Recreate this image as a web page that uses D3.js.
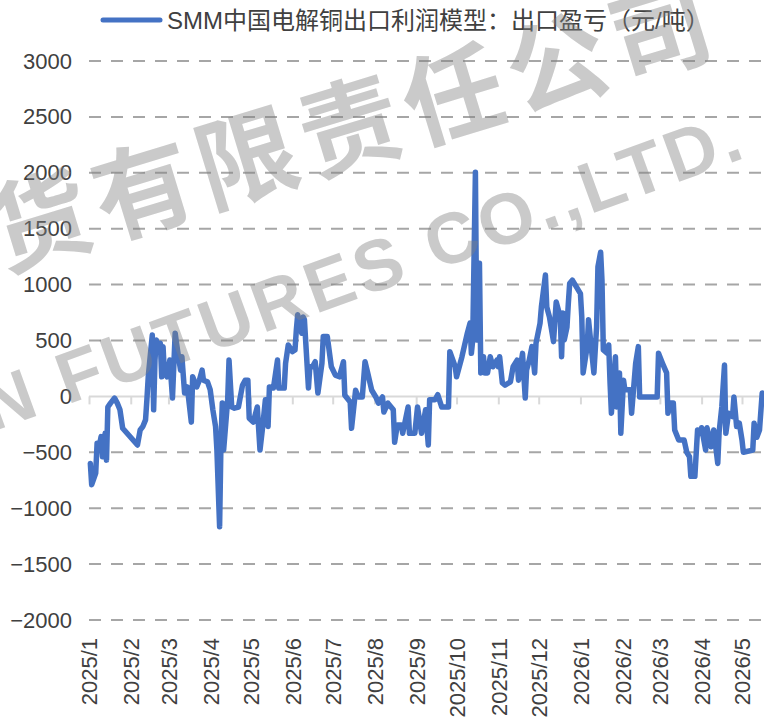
<!DOCTYPE html>
<html>
<head>
<meta charset="utf-8">
<script src="https://cdn.jsdelivr.net/npm/d3@7/dist/d3.min.js"></script>
<style>
  html, body { margin: 0; padding: 0; background: #fff; }
  svg { display: block; }
</style>
</head>
<body>
<svg id="chart" width="764" height="720"></svg>
<script>
// ---------------- DATA ----------------
const seriesName = "SMM中国电解铜出口利润模型：出口盈亏（元/吨）";

const dates = [
"2025-01-02","2025-01-03","2025-01-06","2025-01-07","2025-01-09","2025-01-10","2025-01-11","2025-01-13","2025-01-14","2025-01-15",
"2025-01-17","2025-01-20","2025-01-22","2025-01-24","2025-01-26","2025-02-06","2025-02-08","2025-02-10","2025-02-12","2025-02-13",
"2025-02-14","2025-02-17","2025-02-18","2025-02-19","2025-02-20","2025-02-21","2025-02-23","2025-02-24","2025-02-25","2025-02-26",
"2025-02-28","2025-03-02","2025-03-04","2025-03-06","2025-03-07","2025-03-10","2025-03-11","2025-03-13","2025-03-15","2025-03-18",
"2025-03-19","2025-03-22","2025-03-24","2025-03-26","2025-03-27","2025-03-30","2025-04-01","2025-04-03","2025-04-05","2025-04-06",
"2025-04-08","2025-04-09","2025-04-10","2025-04-11","2025-04-14","2025-04-15","2025-04-17","2025-04-19","2025-04-22","2025-04-25",
"2025-04-27","2025-04-29","2025-04-30","2025-05-03","2025-05-06","2025-05-08","2025-05-10","2025-05-12","2025-05-14","2025-05-15",
"2025-05-18","2025-05-21","2025-05-22","2025-05-26","2025-05-27","2025-05-29","2025-06-01","2025-06-03","2025-06-04","2025-06-05",
"2025-06-08","2025-06-09","2025-06-10","2025-06-13","2025-06-14","2025-06-16","2025-06-18","2025-06-20","2025-06-23","2025-06-24",
"2025-06-27","2025-06-30","2025-07-03","2025-07-06","2025-07-09","2025-07-10","2025-07-14","2025-07-15","2025-07-18","2025-07-20",
"2025-07-23","2025-07-25","2025-07-27","2025-07-30","2025-08-02","2025-08-04","2025-08-07","2025-08-08","2025-08-11","2025-08-15",
"2025-08-16","2025-08-18","2025-08-21","2025-08-22","2025-08-26","2025-08-27","2025-08-31","2025-09-02","2025-09-05","2025-09-08",
"2025-09-10","2025-09-11","2025-09-15","2025-09-17","2025-09-20","2025-09-25","2025-09-26","2025-09-30","2025-10-01","2025-10-05",
"2025-10-09","2025-10-11","2025-10-12","2025-10-13","2025-10-15","2025-10-16","2025-10-18","2025-10-19","2025-10-21","2025-10-22",
"2025-10-24","2025-10-26","2025-10-28","2025-10-31","2025-11-01","2025-11-02","2025-11-04","2025-11-06","2025-11-10","2025-11-12",
"2025-11-15","2025-11-16","2025-11-19","2025-11-21","2025-11-22","2025-11-24","2025-11-26","2025-11-28","2025-11-29","2025-12-02",
"2025-12-03","2025-12-06","2025-12-07","2025-12-09","2025-12-11","2025-12-12","2025-12-14","2025-12-15","2025-12-17","2025-12-18",
"2025-12-19","2025-12-20","2025-12-22","2025-12-23","2025-12-24","2025-12-26","2025-12-29","2026-01-01","2026-01-02","2026-01-03",
"2026-01-06","2026-01-07","2026-01-10","2026-01-11","2026-01-13","2026-01-14","2026-01-16","2026-01-17","2026-01-18","2026-01-21",
"2026-01-22","2026-01-23","2026-01-24","2026-01-27","2026-01-28","2026-01-30","2026-01-31","2026-02-02","2026-02-03","2026-02-07",
"2026-02-08","2026-02-11","2026-02-13","2026-02-14","2026-02-27","2026-02-28","2026-03-03","2026-03-06","2026-03-07","2026-03-09",
"2026-03-11","2026-03-12","2026-03-15","2026-03-19","2026-03-21","2026-03-23","2026-03-24","2026-03-27","2026-03-29","2026-03-31",
"2026-04-01","2026-04-04","2026-04-05","2026-04-08","2026-04-10","2026-04-13","2026-04-14","2026-04-16","2026-04-18","2026-04-19",
"2026-04-21","2026-04-24","2026-04-25","2026-04-27","2026-04-29","2026-05-01","2026-05-02","2026-05-09","2026-05-10","2026-05-12",
"2026-05-14","2026-05-16"
];

const values = [
-600,-790,-685,-420,-420,-360,-540,-330,-570,-95,
-60,-15,-60,-120,-285,-435,-300,-270,-210,-30,
175,550,-120,325,505,415,475,175,445,210,
175,325,-15,565,475,235,355,30,85,-230,
175,85,145,235,145,130,60,-120,-270,-480,
-1165,-420,-60,-480,-30,325,-95,-105,-95,100,
145,145,-195,-230,-95,-480,-270,-30,-270,85,
75,325,75,75,295,460,400,415,595,730,
565,710,685,75,265,265,310,30,295,535,
535,265,190,175,310,10,-50,-285,55,-5,
-5,310,210,55,-5,-60,-5,-140,-60,-120,
-410,-255,-255,-330,-95,-330,-330,-95,-330,-120,
-435,-30,-30,15,-95,-95,400,265,175,355,
565,655,385,505,2005,505,1190,210,355,210,
210,355,265,325,265,355,120,100,130,265,
325,145,385,-15,235,325,445,210,475,655,
800,1085,800,710,565,490,845,800,710,355,
745,505,620,830,1010,1040,980,920,710,210,
445,685,325,210,620,1160,1290,1040,415,385,
460,120,-150,355,-95,210,-330,145,60,60,
-150,295,445,-5,-5,385,295,210,-150,-60,
-60,-300,-390,-390,-500,-540,-715,-715,-300,-330,
-280,-480,-280,-450,-300,-600,-320,-95,280,-330,
-150,-180,-5,-270,-240,-390,-500,-480,-240,-365,
-300,30
];

const yTicks = [-2000,-1500,-1000,-500,0,500,1000,1500,2000,2500,3000];
const monthTicks = ["2025-01-01","2025-02-01","2025-03-01","2025-04-01","2025-05-01","2025-06-01",
  "2025-07-01","2025-08-01","2025-09-01","2025-10-01","2025-11-01","2025-12-01",
  "2026-01-01","2026-02-01","2026-03-01","2026-04-01","2026-05-01"];
const watermarkCN = "货有限责任公司";
const watermarkEN = "N FUTURES CO.,LTD.";

// ---------------- CHART ----------------
const parse = d3.utcParse("%Y-%m-%d");
const data = dates.map((d, i) => ({ date: parse(d), value: values[i] }));
const ticks = monthTicks.map(parse);

const svg = d3.select("#chart");
const left = 89, right = 764;

const x = d3.scaleUtc()
  .domain([parse("2025-01-01"), parse("2026-05-01")])
  .range([89, 742]);
const y = d3.scaleLinear().domain([-2000, 3000]).range([620, 61]);

const fontLatin = "'Liberation Sans', Arial, sans-serif";
const fontCJK = "'Liberation Sans', 'Noto Sans CJK SC', sans-serif";

// gridlines (dashed) except zero
svg.append("g").selectAll("line")
  .data(yTicks.filter(v => v !== 0))
  .join("line")
  .attr("x1", left).attr("x2", right)
  .attr("y1", d => y(d)).attr("y2", d => y(d))
  .attr("stroke", "#a6a6a6")
  .attr("stroke-width", 2)
  .attr("stroke-dasharray", "12,10");

// y axis labels
const yAxis = svg.append("g")
  .attr("transform", `translate(${left - 8},0)`)
  .call(d3.axisLeft(y).tickValues(yTicks).tickSize(0).tickPadding(9).tickFormat(d3.format("d")));
yAxis.select(".domain").remove();
yAxis.selectAll("text")
  .attr("font-family", fontLatin)
  .attr("font-size", 22)
  .attr("fill", "#404040");

// zero axis line with ticks
const zeroAxis = svg.append("g")
  .attr("transform", `translate(0,${y(0)})`)
  .call(d3.axisBottom(x).tickValues(ticks).tickSize(8).tickFormat(""));
zeroAxis.select(".domain").remove();
zeroAxis.selectAll(".tick line").attr("stroke", "#d9d9d9").attr("stroke-width", 2);
svg.append("line")
  .attr("x1", left).attr("x2", right)
  .attr("y1", y(0)).attr("y2", y(0))
  .attr("stroke", "#d9d9d9").attr("stroke-width", 2);

// bottom labels
const xAxis = svg.append("g")
  .attr("transform", `translate(0,${y(-2000)})`)
  .call(d3.axisBottom(x).tickValues(ticks).tickSize(0)
    .tickFormat(d => `${d.getUTCFullYear()}/${d.getUTCMonth() + 1}`));
xAxis.select(".domain").remove();
xAxis.selectAll("text")
  .attr("font-family", fontLatin)
  .attr("font-size", 22)
  .attr("fill", "#404040")
  .attr("text-anchor", "end")
  .attr("transform", "rotate(-90)")
  .attr("x", -18)
  .attr("y", 0)
  .attr("dy", "0.36em");

// line
const line = d3.line().x(d => x(d.date)).y(d => y(d.value));
svg.append("path")
  .datum(data)
  .attr("d", line)
  .attr("fill", "none")
  .attr("stroke", "#4472C4")
  .attr("stroke-width", 5.5)
  .attr("stroke-linejoin", "round")
  .attr("stroke-linecap", "round");

// legend
svg.append("line")
  .attr("x1", 103).attr("x2", 160).attr("y1", 20).attr("y2", 20)
  .attr("stroke", "#4472C4").attr("stroke-width", 5).attr("stroke-linecap", "round");
svg.append("text")
  .attr("x", 167).attr("y", 20)
  .attr("dominant-baseline", "central")
  .attr("font-family", fontCJK)
  .attr("font-size", 24)
  .attr("fill", "#404040")
  .text(seriesName);

// watermark
const wm = svg.append("g").attr("pointer-events", "none");
wm.append("text")
  .attr("transform", "translate(3,271) rotate(-17)")
  .attr("font-family", "'Noto Sans CJK SC', sans-serif")
  .attr("font-weight", "bold")
  .attr("font-size", 100)
  .attr("letter-spacing", 8)
  .attr("fill", "#808080")
  .attr("fill-opacity", 0.42)
  .text(watermarkCN);
wm.append("text")
  .attr("transform", "translate(-8,432) rotate(-20)")
  .attr("font-family", "'Liberation Sans', Arial, sans-serif")
  .attr("font-weight", "bold")
  .attr("font-size", 72)
  .attr("letter-spacing", 4)
  .attr("fill", "#808080")
  .attr("fill-opacity", 0.42)
  .text(watermarkEN);
</script>
</body>
</html>
